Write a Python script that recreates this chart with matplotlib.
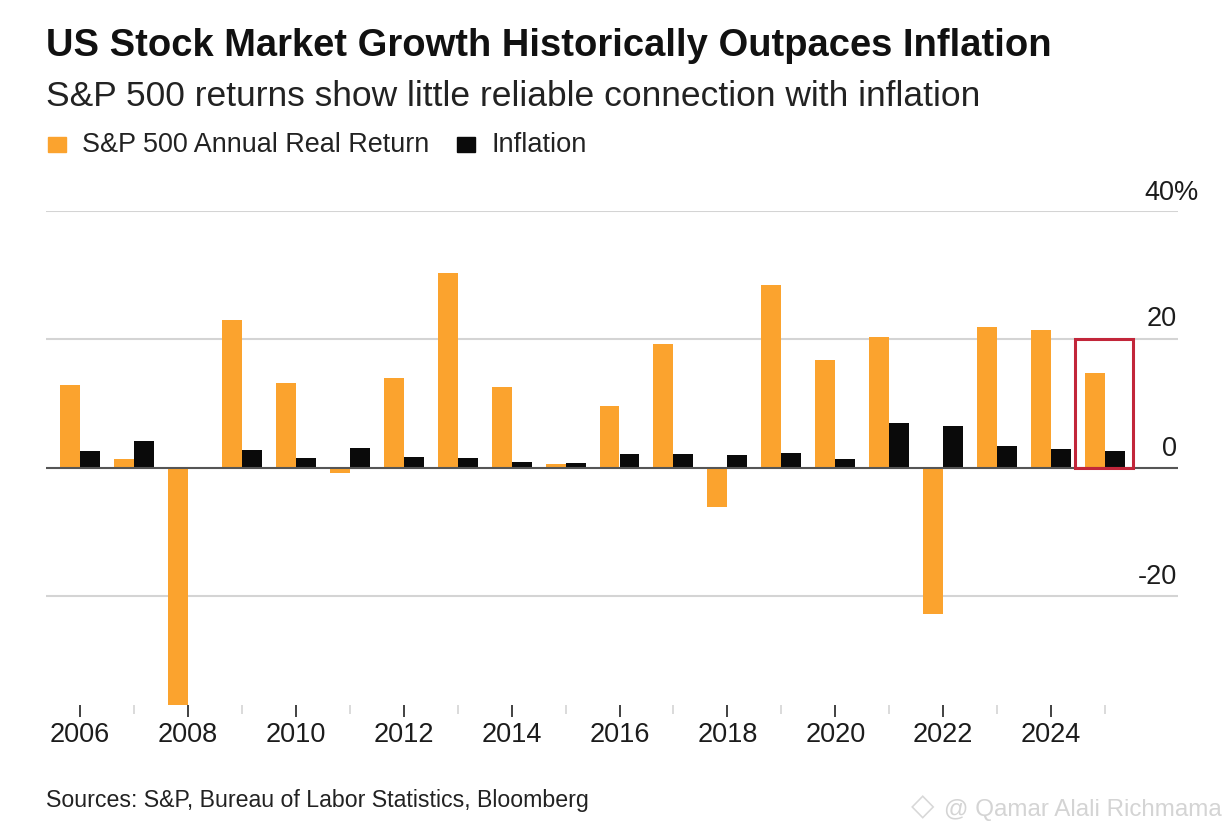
import matplotlib
matplotlib.use("Agg")
import matplotlib.pyplot as plt
from matplotlib.patches import Rectangle
import numpy as np

years = list(range(2006, 2026))
real_return = [12.9, 1.4, -37.0, 23.0, 13.2, -0.8, 13.9, 30.3, 12.6, 0.6, 9.6, 19.3, -6.2, 28.4, 16.7, 20.3, -22.9, 21.9, 21.4, 14.8]
inflation = [2.5, 4.1, 0.0, 2.7, 1.5, 3.0, 1.7, 1.5, 0.8, 0.7, 2.1, 2.1, 1.9, 2.3, 1.4, 7.0, 6.5, 3.4, 2.9, 2.6]
yticks = [-20, 0, 20, 40]
ytick_labels = ["-20", "0", "20", "40%"]
xtick_years = list(range(2006, 2025, 2))
minor_years = list(range(2007, 2026, 2))
orange = "#FBA32E"
W, H = 1230, 833

plt.rcParams['font.family'] = ['Liberation Sans', 'DejaVu Sans']
fig = plt.figure(figsize=(W/100, H/100), dpi=100, facecolor="white")
top, zero, bot = 211, 467.5, 705
per = (zero - top) / 40
ax = fig.add_axes([46/W, 1 - bot/H, (1178-46)/W, (bot-top)/H])
ax.set_ylim(-(bot-zero)/per, 40)
sp = 53.95
ax.set_xlim(2006 + (46-80)/sp, 2006 + (1178-80)/sp)
bw = 20/sp
x = np.array(years)
ax.bar(x - bw/2, real_return, bw, color=orange, zorder=3)
ax.bar(x + bw/2, inflation, bw, color="#0a0a0a", zorder=3)
for s in ax.spines.values():
    s.set_visible(False)
for y in yticks:
    ax.axhline(y, color="#555555" if y == 0 else "#d4d4d4", lw=1.5, zorder=4 if y == 0 else 1)
ax.set_yticks([])
ax.set_xticks(xtick_years)
ax.set_xticklabels([str(y) for y in xtick_years], fontsize=19.5, color="#1c1c1c")
ax.set_xticks(minor_years, minor=True)
ax.tick_params(axis='x', which='major', length=8.6, width=1.3, color="#333333", pad=4, direction='out')
ax.tick_params(axis='x', which='minor', length=6.5, width=1.3, color="#d8d8d8", direction='out')

ypx = {40: 193, 20: 319, 0: 449, -20: 577}
yright = {40: 1199, 20: 1177, 0: 1177, -20: 1177}
for v, lab in zip(yticks, ytick_labels):
    fig.text(yright[v]/W, 1 - ypx[v]/H, lab, ha='right', va='center', fontsize=19.5, color="#1c1c1c")

ax.add_patch(Rectangle((2006 + (1075-80)/sp, 0), 58/sp, 20, fill=False, ec="#C2263A", lw=2.2, zorder=5))

fig.text(46/W, 1-46/H, "US Stock Market Growth Historically Outpaces Inflation", fontsize=27.45, fontweight='bold', color="#111111", va='center', ha='left')
fig.text(46/W, 1-96/H, "S&P 500 returns show little reliable connection with inflation", fontsize=25.45, color="#222222", va='center', ha='left')
fig.add_artist(Rectangle((48/W, 1-152/H), 18/W, 15/H, transform=fig.transFigure, color=orange))
fig.text(82/W, 1-145/H, "S&P 500 Annual Real Return", fontsize=19.45, color="#222222", va='center')
fig.add_artist(Rectangle((457/W, 1-152/H), 18/W, 15/H, transform=fig.transFigure, color="#0a0a0a"))
fig.text(491/W, 1-145/H, "Inflation", fontsize=19.6, color="#222222", va='center')
fig.text(46/W, 1-801/H, "Sources: S&P, Bureau of Labor Statistics, Bloomberg", fontsize=16.7, color="#222222", va='center')
fig.text(1222/W, 1-810/H, "@ Qamar Alali Richmama", fontsize=17.4, color="#d4d4d4", va='center', ha='right')
fig.text(923/W, 1-807/H, "\u25c7", fontsize=22, color="#d8d8d8", va='center', ha='center', family='DejaVu Sans')
fig.savefig("out.png", dpi=100)
